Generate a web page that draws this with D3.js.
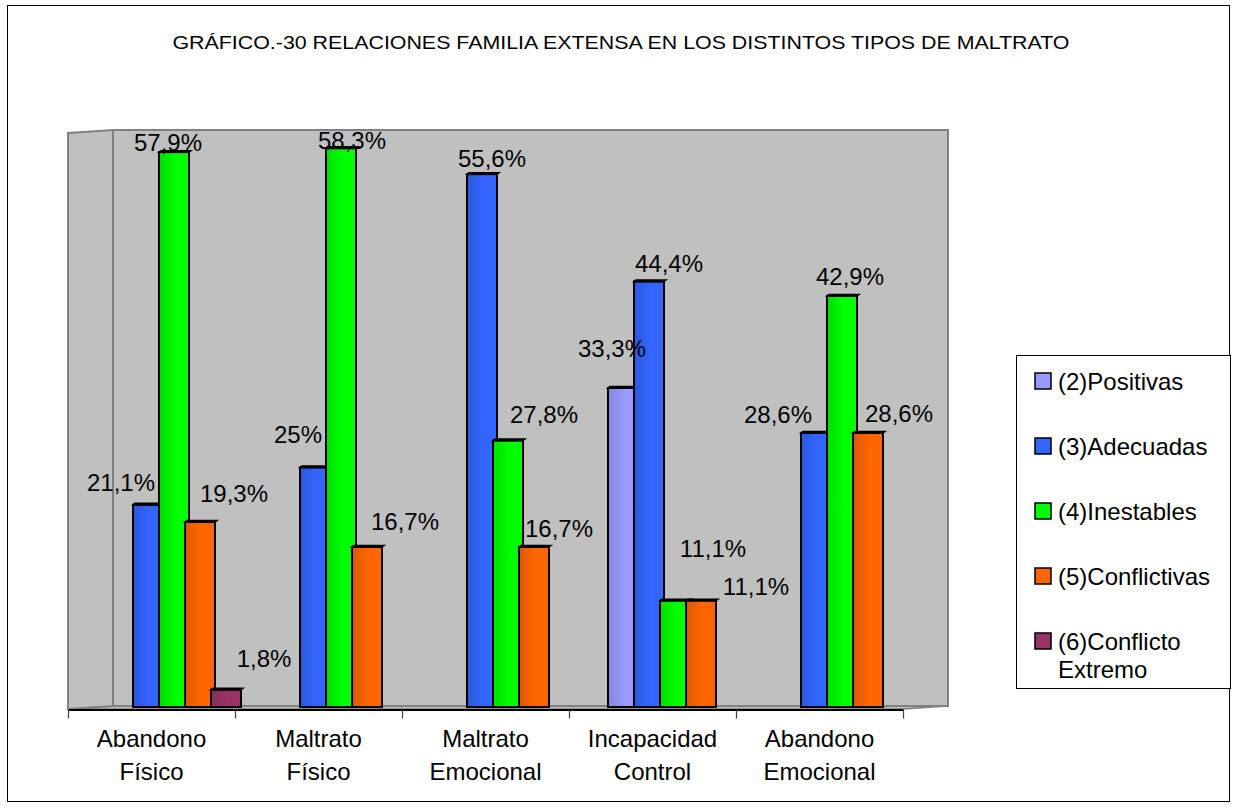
<!DOCTYPE html>
<html>
<head>
<meta charset="utf-8">
<script src="https://cdn.jsdelivr.net/npm/d3@7"></script>
<style>
  body { margin: 0; background: #fff; }
  text { font-family: "Liberation Sans", Arial, sans-serif; fill: #000; }
</style>
</head>
<body>
<div id="chart"></div>
<script>
// DATA
const title = 'GRÁFICO.-30 RELACIONES FAMILIA EXTENSA EN LOS DISTINTOS TIPOS DE MALTRATO';
const categories = ['Abandono Físico', 'Maltrato Físico', 'Maltrato Emocional', 'Incapacidad Control', 'Abandono Emocional'];
const series = ['(2)Positivas', '(3)Adecuadas', '(4)Inestables', '(5)Conflictivas', '(6)Conflicto Extremo'];
const positivas = [null, null, null, 33.3, null];
const adecuadas = [21.1, 25, 55.6, 44.4, 28.6];
const inestables = [57.9, 58.3, 27.8, 11.1, 42.9];
const conflictivas = [19.3, 16.7, 16.7, 11.1, 28.6];
const extremo = [1.8, null, null, null, null];
const values = [positivas, adecuadas, inestables, conflictivas, extremo];

// STYLE
const colors = ['#9999ff', '#3366ff', '#00ff00', '#ff6600', '#993366'];
const shades = ['#8686dc', '#2b58dc', '#00dc00', '#dc5800', '#85305a'];

// label nudges (dx, dy from the bar top centre), Excel places them loosely
const labelOffsets = [
    [null, null, null, [-11, -31], null],
    [[-27, -14], [-17, -24], [10, -7], [20, -10], [-38, -10]],
    [[-6, -1], [11, 1], [36, -18], [38, -44], [8, -11]],
    [[34, -20], [38, -17], [25, -10], [55, -6], [31, -11]],
    [[38, -23], null, null, null, null]
];

// FIGURE DIMENSIONS
const FIGURE = { WIDTH: 1236, HEIGHT: 808 };
const PLOT = { LEFT: 68, RIGHT: 903, TOP: 132, BOTTOM: 707 };
const DEPTH = { X: 45, Y: 3 };
const BAR = { STEP: 26, WIDTH: 30 };

const x0 = d3.scaleBand()
    .domain(categories)
    .range([PLOT.LEFT, PLOT.RIGHT]);

const x1 = d3.scaleBand()
    .domain(series)
    .range([-67, -67 + BAR.STEP * series.length]);

const y = d3.scaleLinear()
    .domain([0, 60])
    .range([PLOT.BOTTOM, PLOT.TOP]);

const fmt = v => String(v).replace('.', ',') + '%';

const svg = d3.select('#chart')
    .append('svg')
        .attr('width', FIGURE.WIDTH)
        .attr('height', FIGURE.HEIGHT);

const defs = svg.append('defs');
colors.forEach((c, i) => {
    const g = defs.append('linearGradient')
        .attr('id', 'grad' + i)
        .attr('x1', '0%').attr('x2', '100%').attr('y1', '0%').attr('y2', '0%');
    g.append('stop').attr('offset', '0%').attr('stop-color', shades[i]);
    g.append('stop').attr('offset', '55%').attr('stop-color', c);
    g.append('stop').attr('offset', '100%').attr('stop-color', c);
});

// outer frame
svg.append('rect')
    .attr('x', 7.5).attr('y', 5.5)
    .attr('width', 1222).attr('height', 796)
    .attr('fill', '#fff')
    .attr('stroke', '#000')
    .attr('stroke-width', 1);

svg.append('text')
    .attr('x', 621)
    .attr('y', 49)
    .attr('text-anchor', 'middle')
    .attr('font-size', 19)
    .attr('textLength', 897)
    .attr('lengthAdjust', 'spacingAndGlyphs')
    .text(title);

// walls and floor
const back = { l: PLOT.LEFT + DEPTH.X, r: PLOT.RIGHT + DEPTH.X, t: y(60) - DEPTH.Y / 2 - 0.5, b: PLOT.BOTTOM - DEPTH.Y / 2 + 0.5 };
const front = { l: PLOT.LEFT, r: PLOT.RIGHT, t: back.t + DEPTH.Y, b: back.b + DEPTH.Y };

svg.append('polygon')
    .attr('points', [[front.l, front.b], [back.l, back.b], [back.r, back.b], [front.r, front.b]].join(' '))
    .attr('fill', '#c0c0c0')
    .attr('stroke', '#808080')
    .attr('stroke-width', 1.5);

svg.append('polygon')
    .attr('points', [[front.l, front.t], [back.l, back.t], [back.l, back.b], [front.l, front.b]].join(' '))
    .attr('fill', '#c0c0c0')
    .attr('stroke', '#808080')
    .attr('stroke-width', 2);

svg.append('rect')
    .attr('x', back.l).attr('y', back.t)
    .attr('width', back.r - back.l).attr('height', back.b - back.t)
    .attr('fill', '#c0c0c0')
    .attr('stroke', '#808080')
    .attr('stroke-width', 2);

// bars
const bars = [];
values.forEach((vals, i) => {
    vals.forEach((v, j) => {
        if (v !== null) bars.push({ s: i, c: j, v: v });
    });
});

const barX = d => x0(categories[d.c]) + x0.bandwidth() / 2 + DEPTH.X / 2 + x1(series[d.s]);

const plot = svg.append('g').attr('class', 'bars');

// draw category by category, series left to right so later ones overlap
bars.sort((a, b) => a.c - b.c || a.s - b.s);

plot.selectAll('g.bar')
    .data(bars)
    .enter()
    .append('g')
        .attr('class', 'bar')
    .each(function(d) {
        const g = d3.select(this);
        const x = barX(d);
        const top = y(d.v);
        g.append('rect')
            .attr('x', x)
            .attr('y', top)
            .attr('width', BAR.WIDTH)
            .attr('height', PLOT.BOTTOM - top)
            .attr('fill', `url(#grad${d.s})`)
            .attr('stroke', '#000')
            .attr('stroke-width', 2);
        g.append('polygon')
            .attr('points', [[x, top], [x + 2, top - 1.5], [x + BAR.WIDTH + 2, top - 1.5], [x + BAR.WIDTH, top]].join(' '))
            .attr('fill', '#000')
            .attr('stroke', '#000')
            .attr('stroke-width', 1.5);
    });

// axis line + ticks between categories
const edges = d3.scalePoint()
    .domain(d3.range(categories.length + 1))
    .range([PLOT.LEFT, PLOT.RIGHT]);

svg.append('g')
    .attr('class', 'xAxis')
    .attr('transform', `translate(0, ${front.b + 0.5})`)
    .call(d3.axisBottom(edges).tickSize(9).tickSizeOuter(0).tickFormat(''))
    .call(g => g.select('.domain').attr('stroke', '#000').attr('stroke-width', 2))
    .call(g => g.selectAll('.tick line').attr('stroke', '#404040').attr('stroke-width', 1.2));

// category labels
const catAxis = svg.append('g')
    .attr('class', 'catAxis')
    .attr('transform', `translate(0, ${front.b})`)
    .call(d3.axisBottom(x0).tickSize(0).tickFormat(''));
catAxis.select('.domain').remove();
catAxis.selectAll('.tick').each(function(c) {
    const t = d3.select(this).append('text')
        .attr('text-anchor', 'middle')
        .attr('font-size', 24)
        .attr('fill', '#000')
        .attr('y', 38);
    c.split(' ').forEach((w, k) => {
        t.append('tspan').attr('x', 0).attr('dy', k === 0 ? 0 : 32.5).text(w);
    });
});

// value labels
svg.append('g')
    .attr('class', 'labels')
    .selectAll('text')
    .data(bars)
    .enter()
    .append('text')
        .attr('x', d => barX(d) + BAR.WIDTH / 2 + labelOffsets[d.s][d.c][0])
        .attr('y', d => y(d.v) + labelOffsets[d.s][d.c][1])
        .attr('text-anchor', 'middle')
        .attr('font-size', 24)
        .text(d => fmt(d.v));

// legend
const legend = svg.append('g').attr('class', 'legend');
legend.append('rect')
    .attr('x', 1016.5).attr('y', 355.5)
    .attr('width', 214).attr('height', 333)
    .attr('fill', '#fff')
    .attr('stroke', '#000')
    .attr('stroke-width', 1);

const items = legend.selectAll('g.item')
    .data(series)
    .enter()
    .append('g')
        .attr('class', 'item')
        .attr('transform', (d, i) => `translate(1035, ${373 + i * 65})`);

items.append('rect')
    .attr('width', 16).attr('height', 16)
    .attr('fill', (d, i) => colors[i])
    .attr('stroke', '#000')
    .attr('stroke-width', 1.5);

items.append('text')
    .attr('x', 23)
    .attr('y', 17)
    .attr('font-size', 24)
    .each(function(d) {
        const t = d3.select(this);
        const words = d.split(' ');
        t.append('tspan').attr('x', 23).text(words[0]);
        if (words.length > 1) t.append('tspan').attr('x', 23).attr('dy', 28).text(words.slice(1).join(' '));
    });
</script>
</body>
</html>
